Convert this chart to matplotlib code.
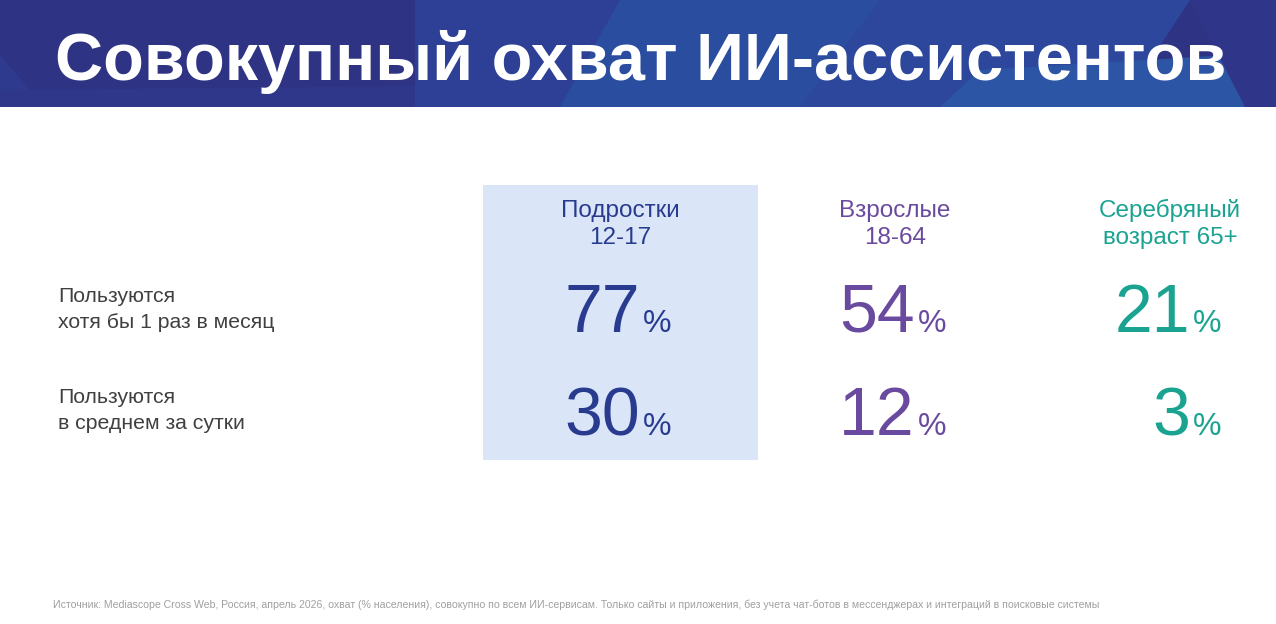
import matplotlib
matplotlib.use("Agg")
import matplotlib.pyplot as plt
from matplotlib.patches import Rectangle, Polygon

# --- data ---
title = "Совокупный охват ИИ-ассистентов"
groups = ["Подростки\n12-17", "Взрослые\n18-64", "Серебряный\nвозраст 65+"]
row_labels = ["Пользуются\nхотя бы 1 раз в месяц", "Пользуются\nв среднем за сутки"]
monthly = [77, 54, 21]
daily = [30, 12, 3]
source = ("Источник: Mediascope Cross Web, Россия, апрель 2026, охват (% населения), "
          "совокупно по всем ИИ-сервисам. Только сайты и приложения, без учета "
          "чат-ботов в мессенджерах и интеграций в поисковые системы")

colors = ["#283B8F", "#6A4A9E", "#1AA391"]
W, H = 1276, 624

plt.rcParams["font.family"] = ["Liberation Sans", "DejaVu Sans"]

fig = plt.figure(figsize=(W / 100, H / 100), dpi=100)
ax = fig.add_axes([0, 0, 1, 1])
ax.set_xlim(0, W)
ax.set_ylim(H, 0)
ax.axis("off")

# header band with faceted blue shapes
ax.add_patch(Rectangle((0, 0), W, 107, color="#2E3384", zorder=0, lw=0))
facets = [
    ([(415, 0), (700, 0), (640, 107), (415, 107)], "#2D4096"),
    ([(620, 0), (900, 0), (820, 107), (560, 107)], "#2A4D9F"),
    ([(880, 0), (1190, 0), (1120, 107), (800, 107)], "#2C479B"),
    ([(980, 70), (1230, 55), (1276, 107), (940, 107)], "#2D55A5"),
    ([(1190, 0), (1276, 0), (1276, 107), (1245, 107)], "#2F3689"),
    ([(0, 55), (45, 107), (0, 107)], "#2D3A8E"),
    ([(0, 90), (415, 86), (415, 107), (0, 107)], "#2E378A"),
]
for pts, c in facets:
    ax.add_patch(Polygon(pts, closed=True, color=c, zorder=0, lw=0))

ax.text(55, 80, title, color="white", fontsize=48, fontweight="bold",
        va="baseline", ha="left")

# highlight column
ax.add_patch(Rectangle((483, 185), 275, 275, color="#DAE6F8", zorder=0, lw=0))

centers = [620, 895, 1170]
for cx, g, c in zip(centers, groups, colors):
    for k, line in enumerate(g.split("\n")):
        ax.text(cx, 217 + 27 * k, line, color=c, fontsize=17.5,
                ha="center", va="baseline")

for y0, label in zip([302, 403], row_labels):
    for k, line in enumerate(label.split("\n")):
        ax.text(58, y0 + 26 * k, line, color="#404040", fontsize=15.3,
                ha="left", va="baseline")

for yb, vals in zip([332, 435], [monthly, daily]):
    for cx, v, c in zip(centers, vals, colors):
        ax.text(cx + 20, yb, str(v), color=c, fontsize=49, ha="right", va="baseline")
        ax.text(cx + 23, yb, "%", color=c, fontsize=23, ha="left", va="baseline")

ax.text(53, 608, source, color="#A0A0A0", fontsize=7.58, ha="left", va="baseline")

fig.savefig("out.png", dpi=100)
